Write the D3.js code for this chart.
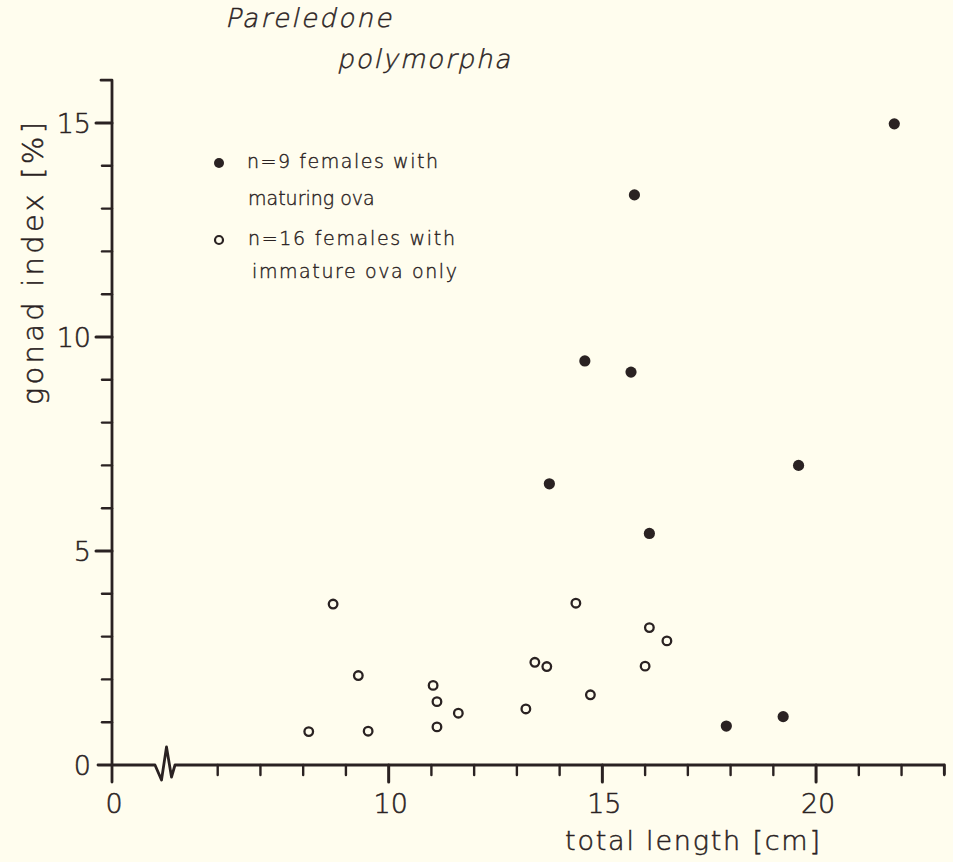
<!DOCTYPE html>
<html>
<head>
<meta charset="utf-8">
<script src="https://cdn.jsdelivr.net/npm/d3@7"></script>
<style>
  html, body { margin: 0; padding: 0; background: #fffdee; }
  svg { display: block; }
  text { font-family: "DejaVu Sans", sans-serif; font-weight: 200; fill: #2a2222; stroke: #2a2222; stroke-width: 0.5; }
  text.it { stroke-width: 0.45; }
</style>
</head>
<body>
<svg id="chart" width="953" height="862"></svg>
<script>
// ---- data ----
const titleLines = ["Pareledone", "polymorpha"];
const xLabel = "total length [cm]";
const yLabel = "gonad index [%]";

// females with maturing ova (filled)
const maturingLength = [21.83, 15.75, 14.59, 15.67, 13.76, 19.59, 16.10, 17.90, 19.23];
const maturingIndex  = [14.98, 13.32,  9.44,  9.18,  6.57,  7.00,  5.41,  0.91,  1.13];

// females with immature ova only (open)
const immatureLength = [8.70, 14.38, 9.29, 13.42, 13.70, 11.04, 11.13, 11.63, 14.72, 13.21, 8.13, 9.52, 11.13, 16.10, 16.51, 16.00];
const immatureIndex  = [3.76,  3.78, 2.09,  2.40,  2.30,  1.86,  1.48,  1.21,  1.64,  1.31, 0.78, 0.79, 0.89,  3.21,  2.90,  2.31];

const xMajorTicks = [10, 15, 20];
const xMinorTicks = [6, 7, 8, 9, 11, 12, 13, 14, 16, 17, 18, 19, 21, 22, 23];
const xBreakLabel = [0];
const yMajorTicks = [0, 5, 10, 15];
const yMinorTicks = [1, 2, 3, 4, 6, 7, 8, 9, 11, 12, 13, 14];

const legendLines = [
  ["n=9 females with", "maturing ova"],
  ["n=16 females with", "immature ova only"]
];

// ---- drawing ----
const ink = "#2a2222";
const svg = d3.select("#chart");

const x = d3.scaleLinear().domain([6, 23]).range([217.7, 944.3]);
const y = d3.scaleLinear().domain([0, 16]).range([765, 80.2]);
const axisX0 = 112;   // position of the broken origin
const axisY0 = y(0);

const g = svg.append("g").attr("stroke", ink).attr("fill", "none")
  .attr("stroke-linecap", "round").attr("stroke-linejoin", "round");

// x axis line with break
const bx = 155;
g.append("path").attr("stroke-width", 2.8)
  .attr("d", `M${axisX0 - 14},${axisY0} L${bx},${axisY0} L${bx + 6.5},${axisY0 + 15} L${bx + 11.5},${axisY0 - 18} L${bx + 16.5},${axisY0 + 12} L${bx + 20},${axisY0} L${x(23)},${axisY0} L${x(23)},${axisY0 + 9}`);

// y axis line
g.append("path").attr("stroke-width", 2.8)
  .attr("d", `M${axisX0},${axisY0 + 17} L${axisX0},${y(16)} L${axisX0 - 11},${y(16)}`);

// x ticks
g.selectAll(".xminor").data(xMinorTicks).join("line")
  .attr("stroke-width", 2.4)
  .attr("x1", d => x(d)).attr("x2", d => x(d))
  .attr("y1", axisY0).attr("y2", axisY0 + 10);
g.selectAll(".xmajor").data(xMajorTicks).join("line")
  .attr("stroke-width", 3)
  .attr("x1", d => x(d)).attr("x2", d => x(d))
  .attr("y1", axisY0).attr("y2", axisY0 + 17);

// y ticks
g.selectAll(".yminor").data(yMinorTicks).join("line")
  .attr("stroke-width", 2.4)
  .attr("x1", axisX0 - 10).attr("x2", axisX0)
  .attr("y1", d => y(d)).attr("y2", d => y(d));
g.selectAll(".ymajor").data(yMajorTicks.filter(d => d > 0)).join("line")
  .attr("stroke-width", 3)
  .attr("x1", axisX0 - 16).attr("x2", axisX0)
  .attr("y1", d => y(d)).attr("y2", d => y(d));

// tick labels
svg.selectAll(".xl").data(xMajorTicks).join("text")
  .attr("x", d => x(d) + 2).attr("y", 813)
  .attr("text-anchor", "middle").attr("font-size", 27).text(d => d);
svg.selectAll(".xl0").data(xBreakLabel).join("text")
  .attr("x", axisX0 + 2).attr("y", 813)
  .attr("text-anchor", "middle").attr("font-size", 27).text(d => d);
svg.selectAll(".yl").data(yMajorTicks).join("text")
  .attr("x", 91).attr("y", d => y(d) + 10)
  .attr("text-anchor", "end").attr("font-size", 27).text(d => d);

// axis titles
svg.append("text").attr("x", 565).attr("y", 850)
  .attr("font-size", 27).attr("textLength", 255).attr("lengthAdjust", "spacing")
  .text(xLabel);
svg.append("text")
  .attr("transform", "translate(43,405) rotate(-90)")
  .attr("font-size", 29).attr("textLength", 283).attr("lengthAdjust", "spacing")
  .text(yLabel);

// title (thin slanted lettering)
svg.append("text").attr("class", "it")
  .attr("transform", "translate(225,27) skewX(-13)")
  .attr("font-size", 26).attr("textLength", 166).attr("lengthAdjust", "spacing")
  .text(titleLines[0]);
svg.append("text").attr("class", "it")
  .attr("transform", "translate(337,68) skewX(-13)")
  .attr("font-size", 26).attr("textLength", 173).attr("lengthAdjust", "spacing")
  .text(titleLines[1]);

// points
const maturing = maturingLength.map((v, i) => ({ x: v, y: maturingIndex[i] }));
const immature = immatureLength.map((v, i) => ({ x: v, y: immatureIndex[i] }));

svg.selectAll(".imm").data(immature).join("circle")
  .attr("cx", d => x(d.x)).attr("cy", d => y(d.y)).attr("r", 4.3)
  .attr("fill", "none").attr("stroke", ink).attr("stroke-width", 2.3);
svg.selectAll(".mat").data(maturing).join("circle")
  .attr("cx", d => x(d.x)).attr("cy", d => y(d.y)).attr("r", 5.6)
  .attr("fill", ink);

// legend
svg.append("circle").attr("cx", 219).attr("cy", 163).attr("r", 5).attr("fill", ink);
svg.append("circle").attr("cx", 219).attr("cy", 240).attr("r", 4).attr("fill", "none")
  .attr("stroke", ink).attr("stroke-width", 2.2);
const legPos = [
  [[247, 168, 191], [248, 205, 117]],
  [[248, 245, 207], [252, 278, 205]]
];
legendLines.forEach((lines, i) => {
  lines.forEach((t, j) => {
    const [lx, ly, lw] = legPos[i][j];
    const el = svg.append("text").attr("x", lx).attr("y", ly)
      .attr("font-size", 19)
      .style("stroke-width", 0.4)
      .text(t);
    const natural = el.node().getComputedTextLength();
    if (natural < lw) el.attr("textLength", lw).attr("lengthAdjust", "spacing");
  });
});
</script>
</body>
</html>
